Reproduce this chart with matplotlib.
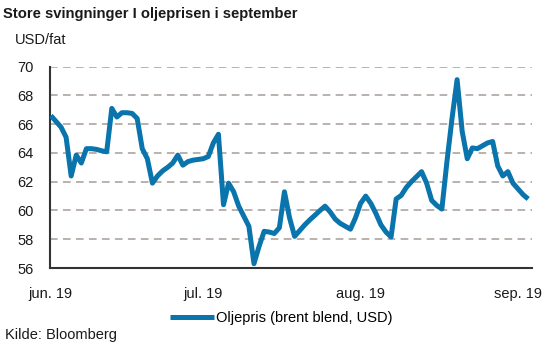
import numpy as np
import pandas as pd
import matplotlib
matplotlib.use('Agg')
import matplotlib.pyplot as plt
import matplotlib.dates as mdates

plt.rcParams['font.family'] = ['Liberation Sans', 'DejaVu Sans']

# Brent, USD/fat, daglige verdier fra 1. juni 2019
start = '2019-06-01'
oljepris = [66.6, 66.2, 65.8, 65.1, 62.4, 63.85, 63.3, 64.3, 64.3, 64.25,
            64.15, 64.08, 67.1, 66.5, 66.8, 66.8, 66.75, 66.4, 64.3, 63.6,
            61.9, 62.4, 62.75, 63.0, 63.3, 63.85, 63.15, 63.4, 63.5, 63.55,
            63.6, 63.75, 64.7, 65.3, 60.4, 61.9, 61.3, 60.3, 59.6, 58.9,
            56.3, 57.5, 58.55, 58.5, 58.4, 58.8, 61.3, 59.5, 58.2, 58.6,
            59.0, 59.35, 59.67, 60.0, 60.3, 59.9, 59.4, 59.1, 58.9, 58.7,
            59.5, 60.5, 61.0, 60.5, 59.8, 59.0, 58.5, 58.16, 60.8, 61.05,
            61.6, 62.0, 62.35, 62.7, 61.9, 60.7, 60.35, 60.1, 63.4, 66.4,
            69.1, 65.5, 63.6, 64.35, 64.3, 64.5, 64.7, 64.8, 63.1, 62.4,
            62.7, 61.9, 61.5, 61.1, 60.8]
datoer = pd.date_range(start, periods=len(oljepris), freq='D')

maaneder = ['2019-06-01', '2019-07-01', '2019-08-01', '2019-09-01']
maaned_labels = ['jun. 19', 'jul. 19', 'aug. 19', 'sep. 19']
yticks = [56, 58, 60, 62, 64, 66, 68, 70]

W, H = 559, 347
fig = plt.figure(figsize=(W / 100, H / 100), dpi=100)
ax = fig.add_axes([50 / W, 1 - 268 / H, (532 - 50) / W, (268 - 66.7) / H])

blue = '#0a74ad'
grid_col = '#a69d97'

for v in yticks[1:]:
    ax.axhline(v, color=grid_col, lw=1.1, dashes=(5, 3.5), zorder=1)

ax.plot(datoer, oljepris, color=blue, lw=3.6, solid_joinstyle='round',
        solid_capstyle='butt', zorder=3, label='Oljepris (brent blend, USD)')

ax.set_ylim(56, 70)
ax.set_yticks(yticks)
ax.set_xlim(pd.Timestamp(start) - pd.Timedelta(hours=4), pd.Timestamp('2019-09-03 18:00'))
ax.set_xticks(pd.to_datetime(maaneder))
ax.set_xticklabels(maaned_labels)

for s in ['top', 'right']:
    ax.spines[s].set_visible(False)
for s in ['left', 'bottom']:
    ax.spines[s].set_color('#333333')
    ax.spines[s].set_linewidth(1.5)
ax.tick_params(length=0, labelsize=10.5, colors='#1a1a1a')
ax.tick_params(axis='y', pad=12)
ax.tick_params(axis='x', pad=14)

fig.text(3 / W, 1 - 14 / H, 'Store svingninger I oljeprisen i september',
         fontsize=10.6, fontweight='bold', va='center', ha='left', color='#1a1a1a')
fig.text(15 / W, 1 - 40 / H, 'USD/fat', fontsize=10.5, va='center', ha='left',
         color='#1a1a1a')
fig.text(5 / W, 1 - 335 / H, 'Kilde: Bloomberg', fontsize=10.5, va='center',
         ha='left', color='#1a1a1a')

fig.legend(loc='center', bbox_to_anchor=(281 / W, 1 - 318 / H), frameon=False,
           fontsize=10.5, handlelength=3.0, handletextpad=0.15)

fig.savefig('out.png', dpi=100)
